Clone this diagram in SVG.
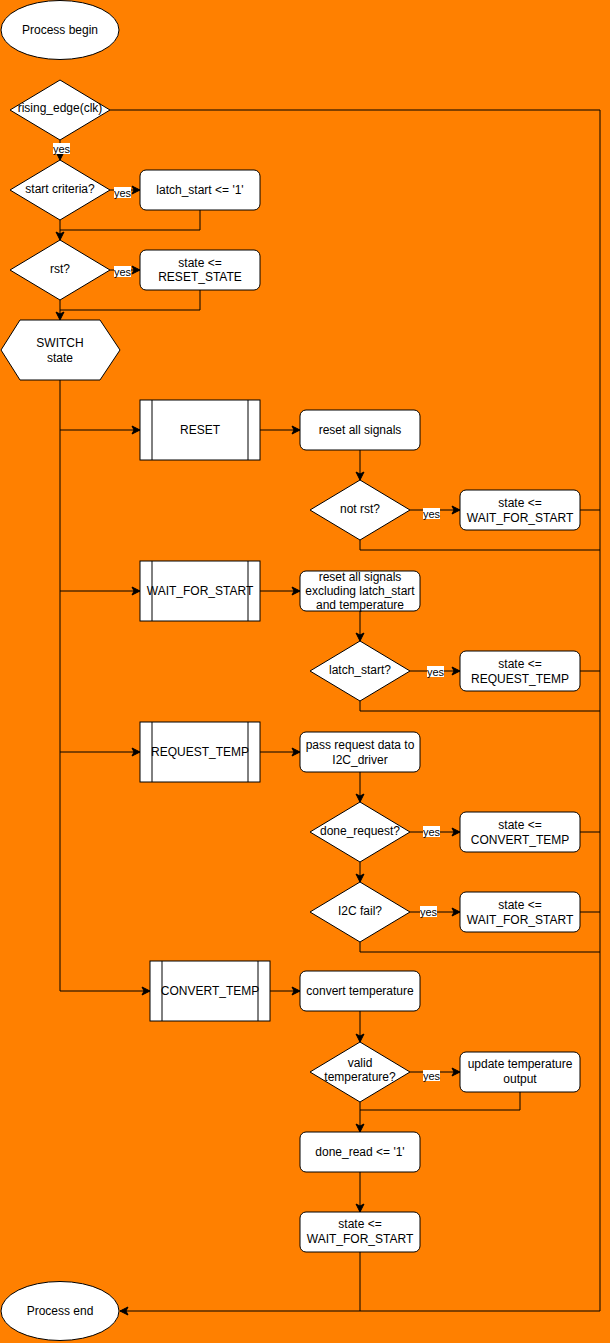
<svg xmlns="http://www.w3.org/2000/svg" width="610" height="1343" viewBox="0 0 610 1343">
<style>
.s{fill:#fff;stroke:#000;stroke-width:1}
.t{font-family:"Liberation Sans",Arial,sans-serif;font-size:12px;fill:#000;text-anchor:middle;dominant-baseline:central}
.y{font-family:"Liberation Sans",Arial,sans-serif;font-size:11px;fill:#000;text-anchor:middle;dominant-baseline:central}
.c{fill:none;stroke:#000;stroke-width:1}
.a{marker-end:url(#ah)}
</style>
<defs>
<marker id="ah" markerUnits="userSpaceOnUse" markerWidth="10" markerHeight="10" viewBox="-1 -5 10 10" refX="8" refY="0" orient="auto">
<path d="M0,-4 L8,0 L0,4 L2,0 z" fill="#000" stroke="#000" stroke-width="1"/>
</marker>
</defs>
<rect width="610" height="1343" fill="#FF8000"/>
<g id="connectors">
<path class="c" d="M110,110 H600 V1311"/>
<path class="c a" d="M60,140 V160"/>
<path class="c a" d="M110,190 H140"/>
<path class="c" d="M200,210 V230 H60"/>
<path class="c a" d="M60,220 V240"/>
<path class="c a" d="M110,270 H140"/>
<path class="c" d="M200,290 V310 H60"/>
<path class="c a" d="M60,300 V320"/>
<path class="c" d="M60,380 V991"/>
<path class="c a" d="M60,430 H140"/>
<path class="c a" d="M60,591 H140"/>
<path class="c a" d="M60,752 H140"/>
<path class="c a" d="M60,991 H150"/>
<path class="c a" d="M260,430 H300"/>
<path class="c a" d="M360,450 V480"/>
<path class="c a" d="M410,510 H460"/>
<path class="c" d="M580,510 H600"/>
<path class="c" d="M360,540 V550 H600"/>
<path class="c a" d="M260,591 H300"/>
<path class="c a" d="M360,611 V641"/>
<path class="c a" d="M410,671 H460"/>
<path class="c" d="M580,671 H600"/>
<path class="c" d="M360,701 V711 H600"/>
<path class="c a" d="M260,752 H300"/>
<path class="c a" d="M360,772 V802"/>
<path class="c a" d="M410,832 H460"/>
<path class="c" d="M580,832 H600"/>
<path class="c a" d="M360,862 V882"/>
<path class="c a" d="M410,912 H460"/>
<path class="c" d="M580,912 H600"/>
<path class="c" d="M360,942 V952 H600"/>
<path class="c a" d="M270,991 H300"/>
<path class="c a" d="M360,1011 V1042"/>
<path class="c a" d="M410,1072 H460"/>
<path class="c" d="M520,1092 V1110 H360"/>
<path class="c a" d="M360,1102 V1132"/>
<path class="c a" d="M360,1172 V1212"/>
<path class="c" d="M360,1252 V1311"/>
<path class="c a" d="M600,1311 H120"/>
<g id="labels">
<rect x="53" y="143" width="17" height="11" fill="#fff"/><text class="y" x="61.5" y="148.5">yes</text>
<rect x="114" y="187" width="17" height="11" fill="#fff"/><text class="y" x="122.5" y="192.5">yes</text>
<rect x="114" y="266" width="17" height="11" fill="#fff"/><text class="y" x="122.5" y="271.5">yes</text>
<rect x="423" y="508" width="17" height="11" fill="#fff"/><text class="y" x="431.5" y="513.5">yes</text>
<rect x="427" y="666" width="17" height="11" fill="#fff"/><text class="y" x="435.5" y="671.5">yes</text>
<rect x="423" y="826" width="17" height="11" fill="#fff"/><text class="y" x="431.5" y="831.5">yes</text>
<rect x="420" y="906" width="17" height="11" fill="#fff"/><text class="y" x="428.5" y="911.5">yes</text>
<rect x="423" y="1070" width="17" height="11" fill="#fff"/><text class="y" x="431.5" y="1075.5">yes</text>
</g>
</g>
<g id="begin"><ellipse class="s" cx="60" cy="30" rx="59" ry="29.5"/><text class="t" x="60" y="30">Process begin</text></g>
<g id="rising"><polygon class="s" points="60,80 110,110 60,140 10,110"/><text class="t" x="60" y="108">rising_edge(clk)</text></g>
<g id="startcrit"><polygon class="s" points="60,160 110,190 60,220 10,190"/><text class="t" x="60" y="189">start criteria?</text></g>
<g id="latch"><rect class="s" x="140" y="170" width="120" height="40" rx="6"/><text class="t" x="200" y="190">latch_start &lt;= '1'</text></g>
<g id="rst"><polygon class="s" points="60,240 110,270 60,300 10,270"/><text class="t" x="60" y="269">rst?</text></g>
<g id="resetstate"><rect class="s" x="140" y="250" width="120" height="40" rx="6"/><text class="t" x="200" y="263">state &lt;=</text><text class="t" x="200" y="277">RESET_STATE</text></g>
<g id="switch"><polygon class="s" points="20,320 100,320 120,350 100,380 20,380 1,350"/><text class="t" x="60" y="343">SWITCH</text><text class="t" x="60" y="358">state</text></g>
<g id="RESET"><rect class="s" x="140" y="400" width="120" height="60"/><path class="c" d="M152,400 V460 M248,400 V460"/><text class="t" x="200" y="430">RESET</text></g>
<g id="resetall"><rect class="s" x="300" y="410" width="120" height="40" rx="6"/><text class="t" x="360" y="430">reset all signals</text></g>
<g id="notrst"><polygon class="s" points="360,480 410,510 360,540 310,510"/><text class="t" x="360" y="509">not rst?</text></g>
<g id="wfs1"><rect class="s" x="460" y="490" width="120" height="40" rx="6"/><text class="t" x="520" y="503">state &lt;=</text><text class="t" x="520" y="518">WAIT_FOR_START</text></g>
<g id="WAIT"><rect class="s" x="140" y="561" width="120" height="60"/><path class="c" d="M152,561 V621 M248,561 V621"/><text class="t" x="200" y="591">WAIT_FOR_START</text></g>
<g id="resetexcl"><rect class="s" x="300" y="571" width="120" height="40" rx="6"/><text class="t" x="360" y="577">reset all signals</text><text class="t" x="360" y="591">excluding latch_start</text><text class="t" x="360" y="605">and temperature</text></g>
<g id="latchq"><polygon class="s" points="360,641 410,671 360,701 310,671"/><text class="t" x="360" y="670">latch_start?</text></g>
<g id="reqtemp"><rect class="s" x="460" y="651" width="120" height="40" rx="6"/><text class="t" x="520" y="664">state &lt;=</text><text class="t" x="520" y="679">REQUEST_TEMP</text></g>
<g id="REQUEST"><rect class="s" x="140" y="722" width="120" height="60"/><path class="c" d="M152,722 V782 M248,722 V782"/><text class="t" x="200" y="752">REQUEST_TEMP</text></g>
<g id="passreq"><rect class="s" x="300" y="732" width="120" height="40" rx="6"/><text class="t" x="360" y="745">pass request data to</text><text class="t" x="360" y="760">I2C_driver</text></g>
<g id="doneq"><polygon class="s" points="360,802 410,832 360,862 310,832"/><text class="t" x="360" y="831">done_request?</text></g>
<g id="convtemp"><rect class="s" x="460" y="812" width="120" height="40" rx="6"/><text class="t" x="520" y="825">state &lt;=</text><text class="t" x="520" y="840">CONVERT_TEMP</text></g>
<g id="i2cfail"><polygon class="s" points="360,882 410,912 360,942 310,912"/><text class="t" x="360" y="911">I2C fail?</text></g>
<g id="wfs2"><rect class="s" x="460" y="892" width="120" height="40" rx="6"/><text class="t" x="520" y="905">state &lt;=</text><text class="t" x="520" y="920">WAIT_FOR_START</text></g>
<g id="CONVERT"><rect class="s" x="150" y="961" width="120" height="60"/><path class="c" d="M162,961 V1021 M258,961 V1021"/><text class="t" x="210" y="991">CONVERT_TEMP</text></g>
<g id="convert"><rect class="s" x="300" y="971" width="120" height="40" rx="6"/><text class="t" x="360" y="991">convert temperature</text></g>
<g id="validq"><polygon class="s" points="360,1042 410,1072 360,1102 310,1072"/><text class="t" x="360" y="1063">valid</text><text class="t" x="360" y="1077">temperature?</text></g>
<g id="update"><rect class="s" x="460" y="1052" width="120" height="40" rx="6"/><text class="t" x="520" y="1064">update temperature</text><text class="t" x="520" y="1079">output</text></g>
<g id="doneread"><rect class="s" x="300" y="1132" width="120" height="40" rx="6"/><text class="t" x="360" y="1152">done_read &lt;= '1'</text></g>
<g id="wfs3"><rect class="s" x="300" y="1212" width="120" height="40" rx="6"/><text class="t" x="360" y="1224">state &lt;=</text><text class="t" x="360" y="1239">WAIT_FOR_START</text></g>
<g id="end"><ellipse class="s" cx="60" cy="1311" rx="59" ry="29.5"/><text class="t" x="60" y="1311">Process end</text></g>
</svg>
